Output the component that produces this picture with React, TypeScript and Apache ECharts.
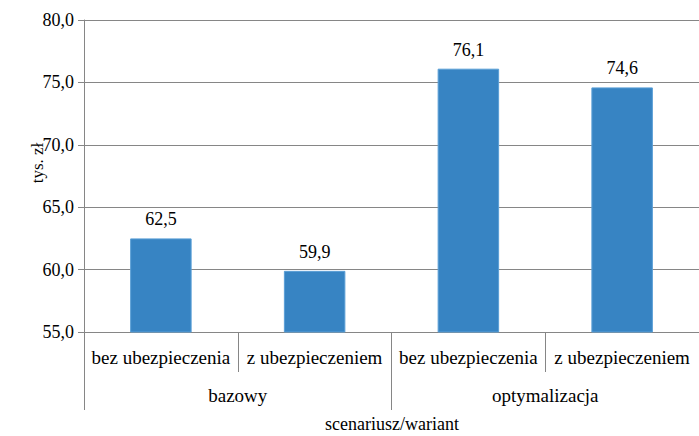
import React, { useEffect, useRef } from "react";
import * as echarts from "echarts";

const variants = ["bez ubezpieczenia", "z ubezpieczeniem", "bez ubezpieczenia", "z ubezpieczeniem"];
const scenarios = ["bazowy", "optymalizacja"];
const values = [62.5, 59.9, 76.1, 74.6];
const yMin = 55;
const yMax = 80;
const yStep = 5;
const yTitle = "tys. zł";
const xTitle = "scenariusz/wariant";

const fmt = (v: number) => v.toFixed(1).replace(".", ",");
const FONT = "Liberation Serif";
const GRAY = "#868686";

export default function App() {
  const ref = useRef<HTMLDivElement>(null);
  useEffect(() => {
    if (!ref.current) return;
    const chart = echarts.init(ref.current, undefined, { renderer: "svg" });
    chart.setOption({
      animation: false,
      textStyle: { fontFamily: FONT },
      grid: { left: 84, right: 0, top: 20, bottom: 104, containLabel: false, outerBoundsMode: "none" },
      xAxis: [
        {
          type: "category",
          data: variants,
          axisLine: { show: true, lineStyle: { color: GRAY, width: 1 } },
          axisTick: { show: true, interval: 0, length: 40, lineStyle: { color: GRAY } },
          axisLabel: { interval: 0, margin: 16, fontSize: 19, color: "#000", fontFamily: FONT },
        },
        {
          type: "category",
          data: scenarios,
          position: "bottom",
          axisLine: { show: false },
          axisTick: { show: true, interval: 0, length: 78, lineStyle: { color: GRAY } },
          axisLabel: { interval: 0, margin: 54, fontSize: 19, color: "#000", fontFamily: FONT },
        },
      ],
      yAxis: {
        type: "value",
        min: yMin,
        max: yMax,
        interval: yStep,
        axisLine: { show: true, lineStyle: { color: GRAY } },
        axisTick: { show: true, length: 6, lineStyle: { color: GRAY } },
        axisLabel: { formatter: (v: number) => fmt(v), fontSize: 18, color: "#000", margin: 10, fontFamily: FONT },
        splitLine: { show: true, lineStyle: { color: GRAY, width: 1 } },
      },
      graphic: [
        {
          type: "text",
          x: 392,
          y: 424,
          style: { text: xTitle, fontFamily: FONT, fontSize: 18, fill: "#000", align: "center", verticalAlign: "middle" },
        },
        {
          type: "text",
          x: 37,
          y: 163,
          rotation: Math.PI / 2,
          style: { text: yTitle, fontFamily: FONT, fontSize: 17, fill: "#000", align: "center", verticalAlign: "middle" },
        },
      ],
      series: [
        {
          type: "bar",
          xAxisIndex: 0,
          data: values,
          barWidth: "40%",
          itemStyle: { color: "#3784C3", borderColor: "#5A9FD6", borderWidth: 1 },
          label: {
            show: true,
            position: "top",
            distance: 10,
            formatter: (p: any) => fmt(p.value),
            fontSize: 18,
            color: "#000",
            fontFamily: FONT,
          },
        },
      ],
    });
    return () => chart.dispose();
  }, []);
  return (
    <div
      ref={ref}
      style={{ position: "fixed", left: 0, top: 0, width: 699, height: 436, background: "#fff" }}
    />
  );
}
